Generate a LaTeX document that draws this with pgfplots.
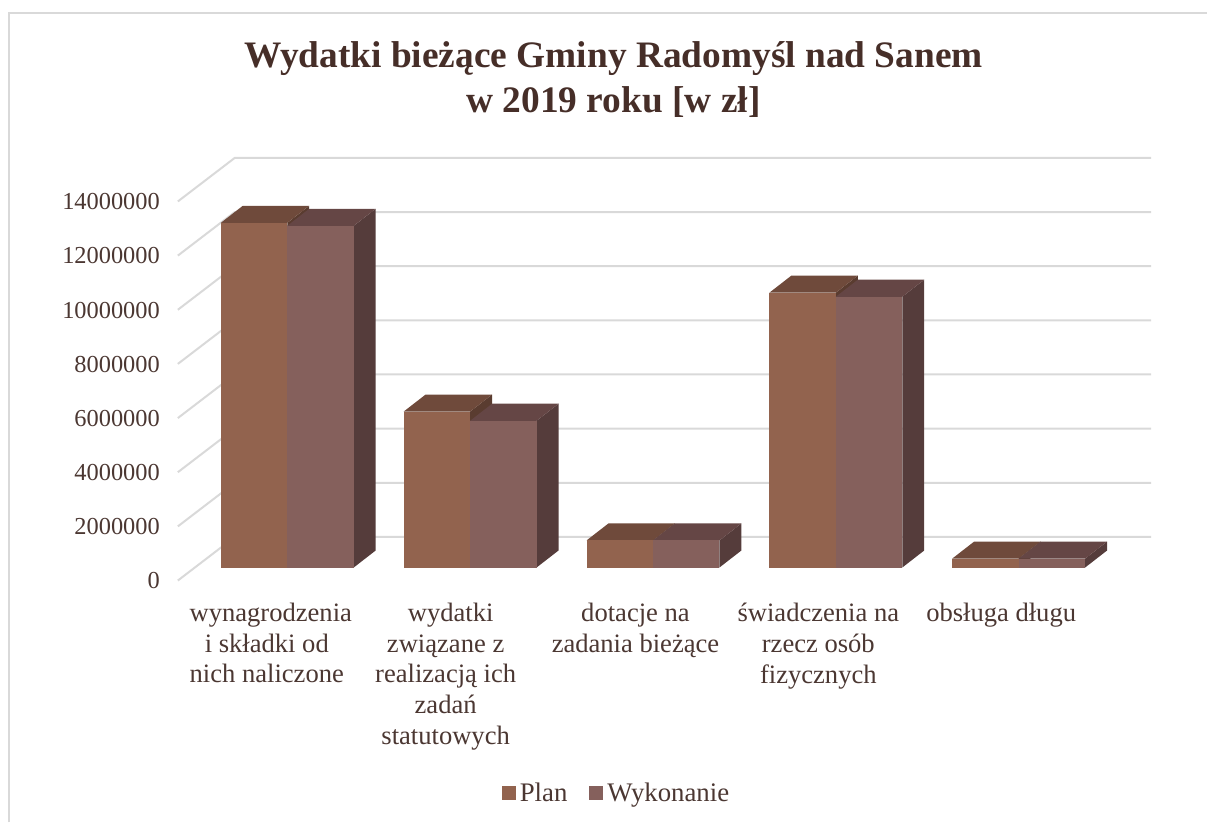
\documentclass[border=0pt]{standalone}
\usepackage{pgfplots}
\pgfplotsset{compat=1.18}
\usepackage{fontspec}
\setmainfont{Liberation Serif}
\definecolor{planfront}{RGB}{146,99,78}
\definecolor{plantop}{RGB}{111,74,59}
\definecolor{planside}{RGB}{90,60,48}
\definecolor{wykfront}{RGB}{133,96,92}
\definecolor{wyktop}{RGB}{101,70,69}
\definecolor{wykside}{RGB}{85,60,59}
\definecolor{gridc}{RGB}{217,217,217}
\definecolor{txt}{RGB}{70,46,40}
\definecolor{lbl}{RGB}{75,55,50}

% x in reference pixels, y in mln zl
% base of the bars sits 0.48 above the front zero, depth is 22 px / 0.63 mln
\newcommand{\dbar}[4]{%
  \pgfmathsetmacro{\xa}{#1}\pgfmathsetmacro{\xb}{#2}
  \pgfmathsetmacro{\xc}{#2+22}\pgfmathsetmacro{\xd}{#1+22}
  \pgfmathsetmacro{\yb}{0.48}\pgfmathsetmacro{\yt}{#3+0.48}
  \pgfmathsetmacro{\ybb}{0.48+0.63}\pgfmathsetmacro{\ytb}{#3+0.48+0.63}
  \addplot[forget plot,draw=none,fill=#4side] coordinates {(\xb,\yb) (\xc,\ybb) (\xc,\ytb) (\xb,\yt)} --cycle;
  \addplot[forget plot,draw=none,fill=#4top] coordinates {(\xa,\yt) (\xb,\yt) (\xc,\ytb) (\xd,\ytb)} --cycle;
  \addplot[forget plot,draw=none,fill=#4front] coordinates {(\xa,\yb) (\xb,\yb) (\xb,\yt) (\xa,\yt)} --cycle;
}
\newcommand{\gridl}[1]{%
  \pgfmathsetmacro{\yw}{#1+1.61}
  \addplot[forget plot,draw=gridc,line width=1pt] coordinates {(178,#1) (235,\yw) (1152,\yw)};
}

\begin{document}
\begin{tikzpicture}
\begin{axis}[
  x=0.5pt, y=13.55pt,
  xmin=178, xmax=1152,
  ymin=0, ymax=15.62,
  axis line style={draw=none},
  tick style={draw=none},
  clip=false,
  font=\fontsize{12}{15}\selectfont,
  ytick={0,2,4,6,8,10,12,14},
  yticklabels={0,2000000,4000000,6000000,8000000,10000000,12000000,14000000},
  yticklabel style={text=lbl,font=\fontsize{12.2}{15}\selectfont,xshift=-5.5pt,yshift=-0.2pt},
  xtick={267,446,636,819,1002},
  xticklabels={\hspace*{4pt}wynagrodzenia\\i składki od\\nich naliczone,\hspace*{5pt}wydatki\\związane z\\realizacją ich\\zadań\\statutowych,dotacje na\\zadania bieżące,świadczenia na\\rzecz osób\\fizycznych,obsługa długu},
  xticklabel style={text=lbl,align=center,anchor=north,yshift=-7.5pt,font=\fontsize{13.3}{15.5}\selectfont},
  legend style={draw=none,fill=none,at={(axis cs:618,-7.86)},anchor=center,legend columns=2,
    font=\fontsize{13.4}{15}\selectfont,text=lbl,/tikz/every even column/.append style={column sep=9pt}},
  legend image code/.code={\fill[#1,draw=none] (0pt,-3.5pt) rectangle (7pt,3.5pt);},
]
\addlegendimage{fill=planfront}
\addlegendentry{Plan}
\addlegendimage{fill=wykfront}
\addlegendentry{Wykonanie}

\gridl{0}\gridl{2}\gridl{4}\gridl{6}\gridl{8}\gridl{10}\gridl{12}\gridl{14}

% outer frame, cut by the page at the right and at the bottom
\addplot[forget plot,draw=gridc,line width=1pt] coordinates {(9,-8.93) (9,20.96) (1208,20.96)};

\dbar{221}{287.5}{12.73}{plan}
\dbar{287.5}{354}{12.62}{wyk}
\dbar{404}{470.5}{5.76}{plan}
\dbar{470.5}{537}{5.42}{wyk}
\dbar{587}{653.5}{1.00}{plan}
\dbar{653.5}{720}{1.00}{wyk}
\dbar{770}{836.5}{10.15}{plan}
\dbar{836.5}{903}{10.00}{wyk}
\dbar{953}{1019.5}{0.33}{plan}
\dbar{1019.5}{1086}{0.33}{wyk}

\node[font=\fontsize{18.7}{22.5}\selectfont\bfseries,text=txt,align=center] at (axis cs:614,18.5)
  {Wydatki bieżące Gminy Radomyśl nad Sanem\\w 2019 roku [w zł]};
\path (axis cs:0,-8.93) rectangle (axis cs:1208,21.44);
\end{axis}
\end{tikzpicture}
\end{document}
